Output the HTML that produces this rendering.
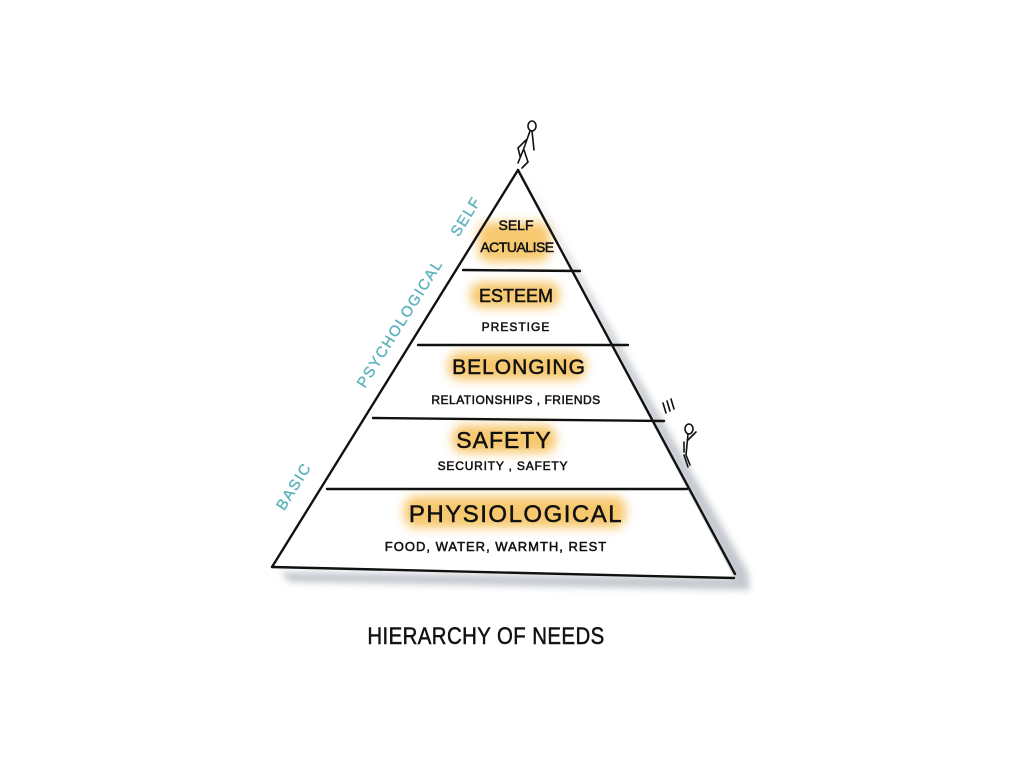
<!DOCTYPE html>
<html><head><meta charset="utf-8"><style>
html,body{margin:0;padding:0;background:#fff;}
svg{display:block;}
text{font-family:"Liberation Sans",sans-serif;}
</style></head><body>
<svg width="1024" height="767" viewBox="0 0 1024 767" xmlns="http://www.w3.org/2000/svg">
<defs>
<filter id="b" x="-30%" y="-80%" width="160%" height="260%"><feGaussianBlur stdDeviation="5"/></filter>
<filter id="s" x="-20%" y="-20%" width="140%" height="140%"><feGaussianBlur stdDeviation="3.5"/></filter>
</defs>
<!-- shadow -->
<polygon points="522,172 748,572 750,590 290,582 280,572 734,578" fill="#b9bfc6" filter="url(#s)" opacity="0.85"/>
<polygon points="518,170 272,567 734,578" fill="#fff"/>
<!-- highlights -->
<g fill="#f6c056" filter="url(#b)" opacity="0.85">
<rect x="478" y="222" width="72" height="40" rx="12"/>
<rect x="470" y="282" width="90" height="26" rx="12"/>
<rect x="448" y="352" width="138" height="28" rx="12"/>
<rect x="452" y="425" width="104" height="28" rx="12"/>
<rect x="404" y="496" width="222" height="32" rx="12"/>
</g>
<!-- pyramid -->
<g stroke="#111" stroke-width="2.4" fill="none" stroke-linecap="round">
<path d="M518,170 L272,567"/>
<path d="M518,170 L735,574"/>
<path d="M272,567 L734,578"/>
<path d="M463,270 L580,271"/>
<path d="M418,345 L628,345"/>
<path d="M373,418 L664,421"/>
<path d="M327,489 L687,489"/>
</g>
<!-- figures -->
<g stroke="#111" stroke-width="1.6" fill="none" stroke-linecap="round">
<ellipse cx="532" cy="126" rx="4" ry="5"/>
<path d="M530,131 L524,148 L518,163 M532,131 L534,150 M526,140 L518,148 L520,156 M524,150 L528,162 L522,168"/>
<path d="M663,403 L666,413 M667,401 L670,411 M671,399 L674,409"/>
<ellipse cx="689" cy="429" rx="4" ry="5"/>
<path d="M688,434 L686,455 M688,440 L696,432 M684,442 L684,452 M686,455 L690,465 M684,455 L688,467"/>
</g>
<!-- side labels -->
<g fill="#5fb4be" font-size="15" letter-spacing="1.5" stroke="#5fb4be" stroke-width="0.4">
<text transform="translate(298,489) rotate(-58)" text-anchor="middle">BASIC</text>
<text transform="translate(404,326) rotate(-58)" text-anchor="middle">PSYCHOLOGICAL</text>
<text transform="translate(470,219) rotate(-58)" text-anchor="middle">SELF</text>
</g>
<!-- level labels -->
<g fill="#111" text-anchor="middle" stroke="#111" stroke-width="0.5">
<text x="516" y="230" font-size="14">SELF</text>
<text x="517" y="252" font-size="14" letter-spacing="-0.5">ACTUALISE</text>
<text x="516" y="302" font-size="18">ESTEEM</text>
<text x="516" y="331" font-size="12" letter-spacing="1">PRESTIGE</text>
<text x="519" y="374" font-size="21" letter-spacing="1">BELONGING</text>
<text x="516" y="404" font-size="12" letter-spacing="0.5">RELATIONSHIPS , FRIENDS</text>
<text x="504" y="448" font-size="23" letter-spacing="1">SAFETY</text>
<text x="503" y="470" font-size="12" letter-spacing="0.8">SECURITY , SAFETY</text>
<text x="516" y="522" font-size="24" letter-spacing="1.5">PHYSIOLOGICAL</text>
<text x="496" y="551" font-size="13" letter-spacing="1">FOOD, WATER, WARMTH, REST</text>
<text x="486" y="644" font-size="24" letter-spacing="0.5" transform="translate(486,644) scale(0.85,1) translate(-486,-644)">HIERARCHY OF NEEDS</text>
</g>
</svg>
</body></html>
